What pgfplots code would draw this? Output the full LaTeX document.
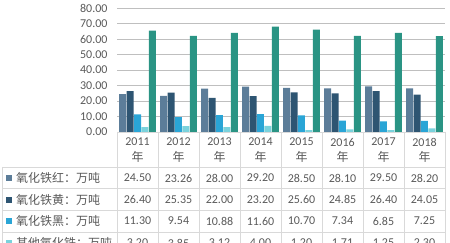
\documentclass[border=0pt]{standalone}
\usepackage{pgfplots}
\usepackage{pgfplotstable}
\pgfplotsset{compat=1.18}
\usepackage{fontspec}
\setmainfont{Carlito}
\newfontfamily\cjk{Noto Sans CJK SC}
\definecolor{cRed}{HTML}{5C7D99}
\definecolor{cYel}{HTML}{2E5572}
\definecolor{cBlk}{HTML}{2AA5D6}
\definecolor{cOth}{HTML}{7AD2DC}
\definecolor{cTot}{HTML}{2A9484}
\definecolor{txt}{HTML}{595959}
\definecolor{grid}{HTML}{D9D9D9}
\pgfplotstableread{
x red yellow black other total
0 24.50 26.40 11.30 3.20 65.40
1 23.26 25.35 9.54 3.85 62.00
2 28.00 22.00 10.88 3.12 64.00
3 29.20 23.20 11.60 4.00 68.00
4 28.50 25.60 10.70 1.20 66.00
5 28.10 24.85 7.34 1.71 62.00
6 29.50 26.40 6.85 1.25 64.00
7 28.20 24.05 7.25 2.30 61.80
}\data
\begin{document}
\begin{tikzpicture}[x=1pt,y=1pt]
\clip (0,0) rectangle (450,-243);
\begin{axis}[
  at={(117pt,-132pt)}, anchor=south west,
  scale only axis, width=328pt, height=124pt,
  xmin=-0.5, xmax=7.5, ymin=0, ymax=80,
  ytick={0,10,...,80}, xtick=\empty,
  ymajorgrids, grid style={grid, line width=0.6pt},
  axis line style={draw=none},
  major tick length=0pt,
  /pgf/number format/assume math mode=true,
  /pgf/number format/fixed,
  /pgf/number format/fixed zerofill,
  /pgf/number format/precision=2,
  ticklabel style={font=\fontsize{12}{14}\selectfont, text=txt},
  yticklabel style={xshift=-6pt},
  ybar=0.4pt, bar width=7pt,
  clip=false,
]
\addplot[fill=cRed, draw=none] table[x=x,y=red] \data;
\addplot[fill=cYel, draw=none] table[x=x,y=yellow] \data;
\addplot[fill=cBlk, draw=none] table[x=x,y=black] \data;
\addplot[fill=cOth, draw=none] table[x=x,y=other] \data;
\addplot[fill=cTot, draw=none] table[x=x,y=total] \data;
\end{axis}
% table grid
\begin{scope}[draw=grid, line width=0.6pt]
\draw (117,-132) -- (445,-132);
\foreach \yy in {-167,-188.5,-210,-232} \draw (2,\yy) -- (445,\yy);
\foreach \i in {0,...,8} \draw ({117+41*\i},-132) -- ({117+41*\i},-243);
\draw (2,-167) -- (2,-243);
\end{scope}
\begin{scope}[text=txt, font=\fontsize{12}{14}\selectfont]
\foreach \yr [count=\i from 0] in {2011,...,2018} {
  \node at ({137.5+41*\i},-142) {\yr};
  \node at ({137.5+41*\i},-157) {\cjk 年};
}
\foreach \v [count=\i from 0] in {24.50,23.26,28.00,29.20,28.50,28.10,29.50,28.20}
  \node at ({137.5+41*\i},-178) {\v};
\foreach \v [count=\i from 0] in {26.40,25.35,22.00,23.20,25.60,24.85,26.40,24.05}
  \node at ({137.5+41*\i},-199.5) {\v};
\foreach \v [count=\i from 0] in {11.30,9.54,10.88,11.60,10.70,7.34,6.85,7.25}
  \node at ({137.5+41*\i},-221) {\v};
\foreach \v [count=\i from 0] in {3.20,3.85,3.12,4.00,1.20,1.71,1.25,2.30}
  \node at ({137.5+41*\i},-243) {\v};
\node[anchor=west, inner sep=0] at (16,-178) {\cjk 氧化铁红：万吨};
\node[anchor=west, inner sep=0] at (16,-199.5) {\cjk 氧化铁黄：万吨};
\node[anchor=west, inner sep=0] at (16,-221) {\cjk 氧化铁黑：万吨};
\node[anchor=west, inner sep=0] at (16,-243) {\cjk 其他氧化铁：万吨};
\end{scope}
\fill[cRed] (6,-175.5) rectangle +(6,-6);
\fill[cYel] (6,-196.5) rectangle +(6,-6);
\fill[cBlk] (6,-218) rectangle +(6,-6);
\fill[cOth] (6,-240) rectangle +(6,-6);
\end{tikzpicture}
\end{document}
